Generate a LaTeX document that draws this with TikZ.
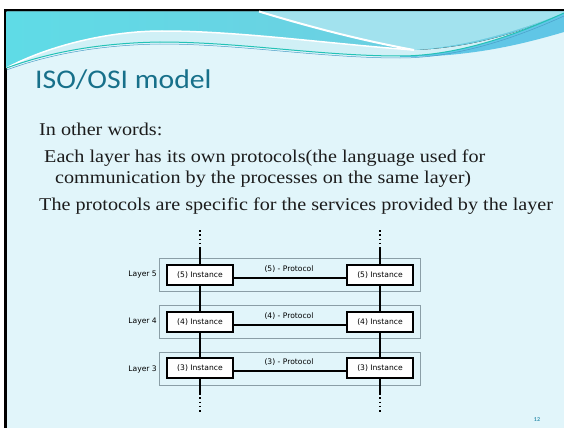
\documentclass[tikz,border=0pt]{standalone}
\usepackage{fontspec}
\setmainfont{Liberation Serif}
\newfontfamily\bodyfont[FakeStretch=1.12]{Liberation Serif}
\newfontfamily\titlefont[FakeStretch=1.1]{Carlito}
\newfontfamily\pagefont{Carlito}
\newfontfamily\diagfont{DejaVu Sans}
\definecolor{slidebg}{HTML}{E1F5FA}
\definecolor{headcyan}{HTML}{72CBE0}
\definecolor{headleft}{HTML}{5FDBE6}
\definecolor{headpale}{HTML}{D0F0F6}
\definecolor{headwedge}{HTML}{A2E2EE}
\definecolor{headband}{HTML}{60C6E6}
\definecolor{waveteal}{HTML}{22C2B6}
\definecolor{waveblue}{HTML}{4A9EC8}
\definecolor{titleteal}{HTML}{17708A}
\definecolor{bodytext}{HTML}{1C1C1C}
\definecolor{layerframe}{HTML}{8A9EA6}
\definecolor{pagenum}{HTML}{3A94B0}
\begin{document}
\begin{tikzpicture}[x=1pt,y=-1pt,
    txt/.style={anchor=base west,inner sep=0pt,text=bodytext,font=\bodyfont\fontsize{18}{22}\selectfont},
    inst/.style={draw,line width=1.3pt,fill=white,minimum width=66pt,minimum height=20pt,inner sep=0pt,font=\diagfont\fontsize{7.6}{9}\selectfont},
    layerbox/.style={draw=layerframe,line width=0.9pt,minimum width=261pt,minimum height=33pt,inner sep=0pt},
    lbl/.style={inner sep=0pt,font=\diagfont\fontsize{7.6}{9}\selectfont},
    wire/.style={line width=1.6pt},
    dots/.style={line width=1.5pt,dash pattern=on 1.5pt off 2.8pt}]
  \useasboundingbox (0,0) rectangle (564,428);
  % slide frame
  \fill[white] (0,0) rectangle (564,428);
  \fill[black] (4,9) rectangle (564,11.5);
  \fill[black] (4,9) rectangle (6.5,428);
  \fill[slidebg] (6.5,11.5) rectangle (564,428);
  % header wave
  \fill[headpale] (6.5,11.5) -- (564,11.5) -- (564,13)
    .. controls (520,33) and (460,56) .. (400,56)
    .. controls (320,56) and (240,42) .. (160,42)
    .. controls (100,43) and (50,52) .. (6.5,68) -- cycle;
  \fill[left color=headleft,right color=headcyan] (6.5,11.5) -- (564,11.5) -- (564,13)
    .. controls (520,33) and (470,48) .. (414,50)
    .. controls (330,44) and (240,31) .. (162,31)
    .. controls (110,31) and (50,45) .. (6.5,68) -- cycle;
  \fill[headwedge] (259,11.5) .. controls (320,30) and (370,42) .. (414,50)
    .. controls (470,46) and (520,30) .. (564,13) -- (564,11.5) -- cycle;
  \draw[white,line width=2pt] (259,11.5) .. controls (320,30) and (370,42) .. (414,50);
  \draw[white,line width=1.5pt] (6.5,68) .. controls (50,45) and (110,31) .. (162,31)
    .. controls (240,31) and (330,44) .. (414,50);
  \fill[headband] (400,56) .. controls (460,56) and (520,33) .. (564,13)
    -- (564,32) .. controls (520,45) and (470,57) .. (400,57) -- cycle;
  \draw[waveblue,line width=0.5pt] (6.5,70) .. controls (50,54) and (100,45) .. (160,44)
    .. controls (240,44) and (320,58) .. (400,58) .. controls (460,58) and (520,36) .. (564,16);
  \draw[waveteal,line width=1pt] (6.5,68) .. controls (50,52) and (100,43) .. (160,42)
    .. controls (240,42) and (320,56) .. (400,56) .. controls (460,56) and (520,33) .. (564,13);
  % texts
  \draw
    (35,88) node[anchor=base west,inner sep=0pt,text=titleteal,font=\titlefont\fontsize{27}{32}\selectfont] (title){ISO/OSI model}
    (39,135) node[txt] (intro){In other words:}
    (44,162) node[txt] (each){Each layer has its own protocols(the language used for}
    (55,183) node[txt] (comm){communication by the processes on the same layer)}
    (39,210) node[txt] (spec){The protocols are specific for the services provided by the layer}
    (537,420) node[inner sep=0pt,text=pagenum,font=\pagefont\bfseries\fontsize{6}{7}\selectfont] (page){12};
  % layers
  \draw
    (289.5,274.5) node[layerbox] (l5){}
    (289.5,321.5) node[layerbox] (l4){}
    (289.5,368.5) node[layerbox] (l3){}
    (157,275) node[lbl,anchor=east] (n5){Layer 5}
    (157,322) node[lbl,anchor=east] (n4){Layer 4}
    (157,369) node[lbl,anchor=east] (n3){Layer 3}
    (289,269) node[lbl] (p5){(5) - Protocol}
    (289,316) node[lbl] (p4){(4) - Protocol}
    (289,362) node[lbl] (p3){(3) - Protocol};
  \coordinate (dtl) at (200,230);
  \coordinate (dtr) at (380,230);
  \coordinate (tl) at (200,247);
  \coordinate (tr) at (380,247);
  \coordinate (bl) at (200,393);
  \coordinate (br) at (380,393);
  \coordinate (dbl) at (200,413);
  \coordinate (dbr) at (380,413);
  \draw[dots] (dtl) to (tl);
  \draw[dots] (dtr) to (tr);
  \draw[dots] (bl) to (dbl);
  \draw[dots] (br) to (dbr);
  \draw
    (200,275) node[inst] (i5l){(5) Instance}
    (380,275) node[inst] (i5r){(5) Instance}
    (200,322) node[inst] (i4l){(4) Instance}
    (380,322) node[inst] (i4r){(4) Instance}
    (200,368) node[inst] (i3l){(3) Instance}
    (380,368) node[inst] (i3r){(3) Instance};
  \begin{scope}[wire]
    \draw (tl) to (i5l);
    \draw (tr) to (i5r);
    \draw (i5l) to (i4l);
    \draw (i5r) to (i4r);
    \draw (i4l) to (i3l);
    \draw (i4r) to (i3r);
    \draw (i3l) to (bl);
    \draw (i3r) to (br);
    \draw ([yshift=-3pt]i5l.east) to ([yshift=-3pt]i5r.west);
    \draw ([yshift=-3pt]i4l.east) to ([yshift=-3pt]i4r.west);
    \draw ([yshift=-3pt]i3l.east) to ([yshift=-3pt]i3r.west);
  \end{scope}
\end{tikzpicture}
\end{document}
